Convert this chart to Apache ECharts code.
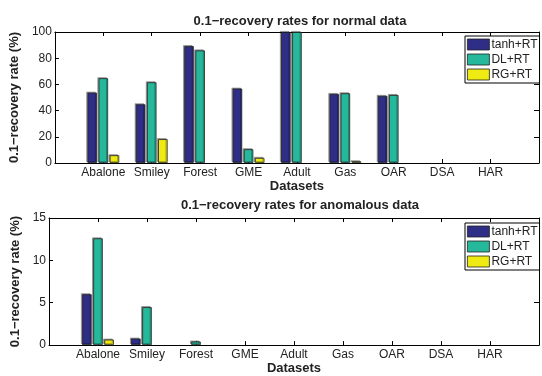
<!DOCTYPE html>
<html>
<head>
<meta charset="utf-8">
<script src="https://cdn.jsdelivr.net/npm/echarts@6/dist/echarts.min.js"></script>
<style>
  html, body { margin: 0; padding: 0; background: #fff; }
  #chart { width: 542px; height: 376px; }
</style>
</head>
<body>
<div id="chart"></div>
<script>
// datasets on the x axis
var datasets = ["Abalone", "Smiley", "Forest", "GME", "Adult", "Gas", "OAR", "DSA", "HAR"];
var methods = ["tanh+RT", "DL+RT", "RG+RT"];

// normal data (%)
var normalTanh = [53.7, 44.8, 89.2, 56.8, 100, 52.7, 51.2, 0, 0];
var normalDL   = [64.7, 61.6, 85.9, 10.5, 100, 53.2, 51.9, 0, 0];
var normalRG   = [5.9, 18.2, 0, 3.9, 0, 1.3, 0, 0, 0];

// anomalous data (%)
var anomTanh = [6.0, 0.77, 0, 0, 0, 0, 0, 0, 0];
var anomDL   = [12.6, 4.48, 0.42, 0, 0, 0, 0, 0, 0];
var anomRG   = [0.65, 0, 0, 0, 0, 0, 0, 0, 0];

var colors = ["#2f2e86", "#25b89b", "#eeea12"];
var font = "Liberation Sans, Arial, sans-serif";

// zero-height bars are not drawn at all in the original
function pts(arr) {
  return arr.map(function (v, i) { return v > 0 ? [i + 1, v] : [i + 1, null]; });
}

function xAxes(gi) {
  return [{
    type: "value", gridIndex: gi, min: 0, max: 10, interval: 1,
    name: "Datasets", nameLocation: "middle", nameGap: 15,
    nameTextStyle: { fontFamily: font, fontSize: 13, fontWeight: "bold", color: "#222" },
    axisLine: { show: true, onZero: false, lineStyle: { color: "#000", width: 1 } },
    axisTick: { show: true, inside: true, length: 4, lineStyle: { color: "#000" } },
    splitLine: { show: false },
    axisLabel: {
      margin: 4, fontFamily: font, fontSize: 12, color: "#222",
      formatter: function (v) { return (v >= 1 && v <= 9) ? datasets[v - 1] : ""; }
    }
  }, {
    type: "value", gridIndex: gi, position: "top", min: 0, max: 10, interval: 1,
    axisLine: { show: true, onZero: false, lineStyle: { color: "#000", width: 1 } },
    axisTick: { show: true, inside: true, length: 4, lineStyle: { color: "#000" } },
    axisLabel: { show: false }, splitLine: { show: false }
  }];
}

function yAxes(gi, max, interval) {
  return [{
    type: "value", gridIndex: gi, min: 0, max: max, interval: interval,
    name: "0.1\u2212recovery rate (%)", nameLocation: "middle", nameGap: 23,
    nameTextStyle: { fontFamily: font, fontSize: 13, fontWeight: "bold", color: "#222" },
    axisLine: { show: true, onZero: false, lineStyle: { color: "#000", width: 1 } },
    axisTick: { show: true, inside: true, length: 4, lineStyle: { color: "#000" } },
    splitLine: { show: false },
    axisLabel: { margin: 3, fontFamily: font, fontSize: 12, color: "#222" }
  }, {
    type: "value", gridIndex: gi, position: "right", min: 0, max: max, interval: interval,
    axisLine: { show: true, onZero: false, lineStyle: { color: "#000", width: 1 } },
    axisTick: { show: true, inside: true, length: 5, lineStyle: { color: "#000" } },
    axisLabel: { show: false }, splitLine: { show: false }
  }];
}

function barSeries(name, data, color, xi, yi) {
  return {
    name: name, type: "bar", xAxisIndex: xi, yAxisIndex: yi,
    data: pts(data), barWidth: 9.5, barGap: "17%",
    itemStyle: {
      color: color, borderColor: "#222", borderWidth: 0.8,
      shadowColor: "rgba(0,0,0,0.35)", shadowOffsetX: -1.2, shadowOffsetY: -1, shadowBlur: 0
    },
    emphasis: { disabled: true }
  };
}

function legend(top) {
  return {
    data: methods, orient: "vertical", left: 465, top: top,
    backgroundColor: "#fff", borderColor: "#000", borderWidth: 1,
    padding: [2, 2, 2, 2], itemWidth: 22, itemHeight: 11, itemGap: 2,
    icon: "rect",
    itemStyle: { borderColor: "#222", borderWidth: 0.8 },
    textStyle: { fontFamily: font, fontSize: 12, color: "#222", padding: [0, 0, 0, -3], lineHeight: 13 }
  };
}

var chart = echarts.init(document.getElementById("chart"));
chart.setOption({
  animation: false,
  color: colors,
  title: [
    { text: "0.1\u2212recovery rates for normal data", left: 295, top: 10, textAlign: "center",
      textStyle: { fontFamily: font, fontSize: 13, fontWeight: "bold", color: "#222" } },
    { text: "0.1\u2212recovery rates for anomalous data", left: 295, top: 194, textAlign: "center",
      textStyle: { fontFamily: font, fontSize: 13, fontWeight: "bold", color: "#222" } }
  ],
  legend: [legend(36), legend(223)],
  grid: [
    { left: 49, top: 32, width: 494, height: 131, show: false },
    { left: 49, top: 218, width: 494, height: 131, show: false }
  ],
  xAxis: xAxes(0).concat(xAxes(1)),
  yAxis: yAxes(0, 100, 20).concat(yAxes(1, 15, 5)),
  series: [
    barSeries(methods[0], normalTanh, colors[0], 0, 0),
    barSeries(methods[1], normalDL, colors[1], 0, 0),
    barSeries(methods[2], normalRG, colors[2], 0, 0),
    barSeries(methods[0], anomTanh, colors[0], 2, 2),
    barSeries(methods[1], anomDL, colors[1], 2, 2),
    barSeries(methods[2], anomRG, colors[2], 2, 2)
  ]
});
</script>
</body>
</html>
